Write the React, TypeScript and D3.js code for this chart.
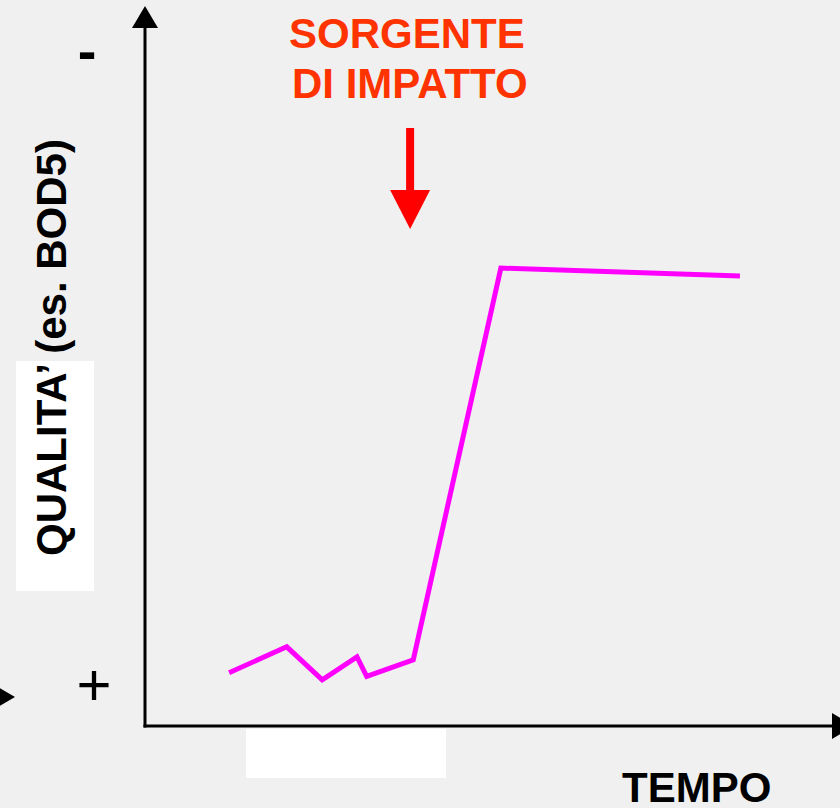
import React, { useEffect, useRef } from 'react';
import * as d3 from 'd3';

// time (arbitrary units) and BOD5 level (arbitrary units)
const timeValues = [12.1, 20.4, 25.5, 30.5, 31.9, 38.6, 51.2, 85.6];
const bodValues = [7.4, 11.0, 6.4, 9.6, 6.9, 9.2, 63.6, 62.5];
const sourceTime = 38.0; // where the impact source enters

const xLabel = 'TEMPO';
const yLabel = 'QUALITA’ (es. BOD5)';
const sourceLines = ['SORGENTE', 'DI IMPATTO'];

const W = 840;
const H = 808;

const App: React.FC = () => {
  const svgRef = useRef<SVGSVGElement>(null);

  useEffect(() => {
    if (!svgRef.current) return;
    const svg = d3.select(svgRef.current);
    svg.selectAll('*').remove();

    const font = '"Liberation Sans", Arial, sans-serif';

    const x = d3.scaleLinear().domain([0, 100]).range([145, 840]);
    const y = d3.scaleLinear().domain([0, 100]).range([726, 6]);

    // background
    svg.append('rect').attr('width', W).attr('height', H).attr('fill', '#f0f0f0');

    // white boxes (left over from the slide)
    svg.append('rect').attr('x', 16).attr('y', 361).attr('width', 78).attr('height', 230).attr('fill', '#ffffff');
    svg.append('rect').attr('x', 246).attr('y', 729).attr('width', 200).attr('height', 49).attr('fill', '#ffffff');

    // axes
    const x0 = x(0);
    const y0 = y(0);
    svg.append('line')
      .attr('x1', x0).attr('x2', x0)
      .attr('y1', y0 + 1.5).attr('y2', y(100) + 20)
      .attr('stroke', '#000').attr('stroke-width', 3);
    svg.append('path')
      .attr('d', `M${x0},${y(100)} L${x0 - 13},${y(100) + 22} L${x0 + 13},${y(100) + 22} Z`)
      .attr('fill', '#000');

    svg.append('line')
      .attr('x1', x0 - 1.5).attr('x2', x(100) - 6)
      .attr('y1', y0).attr('y2', y0)
      .attr('stroke', '#000').attr('stroke-width', 3);
    svg.append('path')
      .attr('d', `M${x(100) + 14},${y0} L${x(100) - 8},${y0 - 13} L${x(100) - 8},${y0 + 13} Z`)
      .attr('fill', '#000');

    // stray arrowhead on the left edge
    svg.append('path')
      .attr('d', `M15,697 L-7,684 L-7,710 Z`)
      .attr('fill', '#000');

    // + / - markers
    svg.append('text')
      .attr('x', 94).attr('y', 705)
      .attr('text-anchor', 'middle')
      .attr('font-family', font).attr('font-size', 60)
      .attr('fill', '#000')
      .text('+');
    svg.append('text')
      .attr('x', 87).attr('y', 70)
      .attr('text-anchor', 'middle')
      .attr('font-family', font).attr('font-size', 56).attr('font-weight', 'bold')
      .attr('fill', '#000')
      .text('-');

    // data line
    const line = d3.line<number>()
      .x((_, i) => x(timeValues[i]))
      .y((d) => y(d));
    svg.append('path')
      .datum(bodValues)
      .attr('d', line)
      .attr('fill', 'none')
      .attr('stroke', '#ff00ff')
      .attr('stroke-width', 5);

    // impact source arrow
    const ax = x(sourceTime) + 1;
    svg.append('rect')
      .attr('x', ax - 4).attr('y', 128).attr('width', 8).attr('height', 63)
      .attr('fill', '#ff0000');
    svg.append('path')
      .attr('d', `M${ax - 20},190 L${ax + 20},190 L${ax},229 Z`)
      .attr('fill', '#ff0000');

    svg.append('text')
      .attr('x', 289).attr('y', 48)
      .attr('font-family', font).attr('font-size', 42).attr('font-weight', 'bold')
      .attr('fill', '#ff3300')
      .text(sourceLines[0]);
    svg.append('text')
      .attr('x', 292).attr('y', 98)
      .attr('font-family', font).attr('font-size', 42).attr('font-weight', 'bold')
      .attr('fill', '#ff3300')
      .text(sourceLines[1]);

    // axis titles
    svg.append('text')
      .attr('x', 622).attr('y', 802)
      .attr('font-family', font).attr('font-size', 42).attr('font-weight', 'bold')
      .attr('fill', '#000')
      .text(xLabel);
    svg.append('text')
      .attr('transform', 'translate(66,556) rotate(-90)')
      .attr('font-family', font).attr('font-size', 42).attr('font-weight', 'bold')
      .attr('fill', '#000')
      .text(yLabel);
  }, []);

  return (
    <svg
      ref={svgRef}
      width={W}
      height={H}
      style={{ position: 'absolute', left: 0, top: 0, display: 'block' }}
    />
  );
};

export default App;
